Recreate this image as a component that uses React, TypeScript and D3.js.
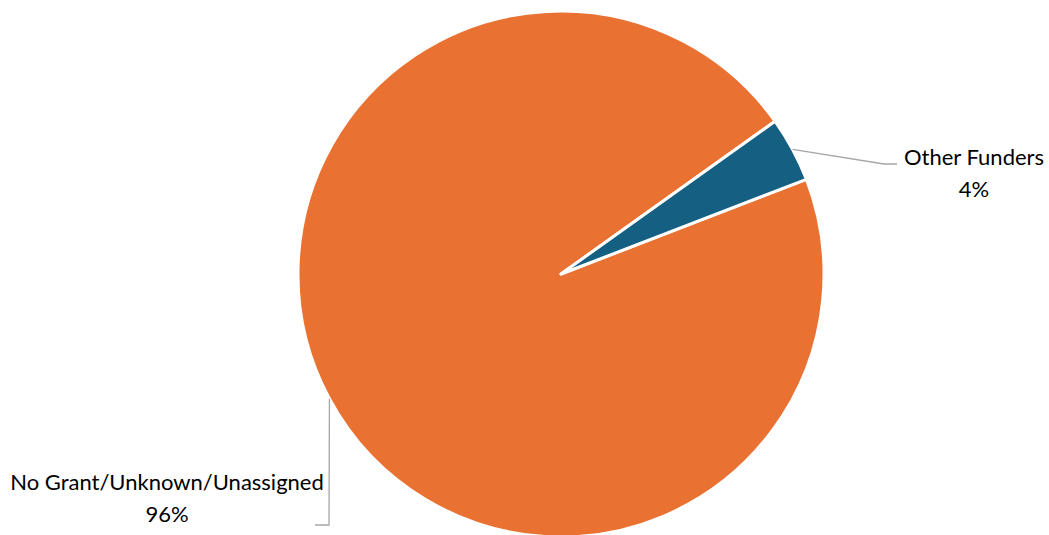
import React from "react";
import * as d3 from "d3";

const categories = ["No Grant/Unknown/Unassigned", "Other Funders"];
const values = [96, 4];
const percentLabels = ["96%", "4%"];
const colors = ["#E97132", "#156082"];

const W = 1049;
const H = 535;
const cx = 561;
const cy = 274;
const R = 263;
const startDeg = 68.9;

const labelLayout = [
  { x: 167, y: 490, anchorEnd: [[329, 525], [315, 525]] },
  { x: 974, y: 165, anchorEnd: [[884, 164], [897, 164]] },
];

export default function App() {
  const start = (startDeg * Math.PI) / 180;
  const pie = d3
    .pie<number>()
    .sort(null)
    .value((d) => d)
    .startAngle(start)
    .endAngle(start + 2 * Math.PI);
  const arcs = pie(values);
  const arc = d3.arc<d3.PieArcDatum<number>>().innerRadius(0).outerRadius(R);

  return (
    <svg
      width={W}
      height={H}
      style={{ position: "absolute", left: 0, top: 0, background: "#fff" }}
      fontFamily="Lato, 'Open Sans', sans-serif"
    >
      <g transform={`translate(${cx},${cy})`}>
        {arcs.map((a, i) => (
          <path key={i} d={arc(a) || ""} fill={colors[i]} stroke="#fff" strokeWidth={3} strokeLinejoin="round" />
        ))}
      </g>
      {arcs.map((a, i) => {
        const mid = (a.startAngle + a.endAngle) / 2;
        const px = cx + R * Math.sin(mid);
        const py = cy - R * Math.cos(mid);
        const pts = [[px, py], ...labelLayout[i].anchorEnd];
        const line = d3.line()(pts as [number, number][]) || "";
        return (
          <g key={"l" + i}>
            <path d={line} fill="none" stroke="#A6A6A6" strokeWidth={1.3} />
            <text x={labelLayout[i].x} y={labelLayout[i].y} textAnchor="middle" fontSize={22} fill="#000">
              {categories[i]}
            </text>
            <text x={labelLayout[i].x} y={labelLayout[i].y + 32} textAnchor="middle" fontSize={22} fill="#000">
              {percentLabels[i]}
            </text>
          </g>
        );
      })}
    </svg>
  );
}
